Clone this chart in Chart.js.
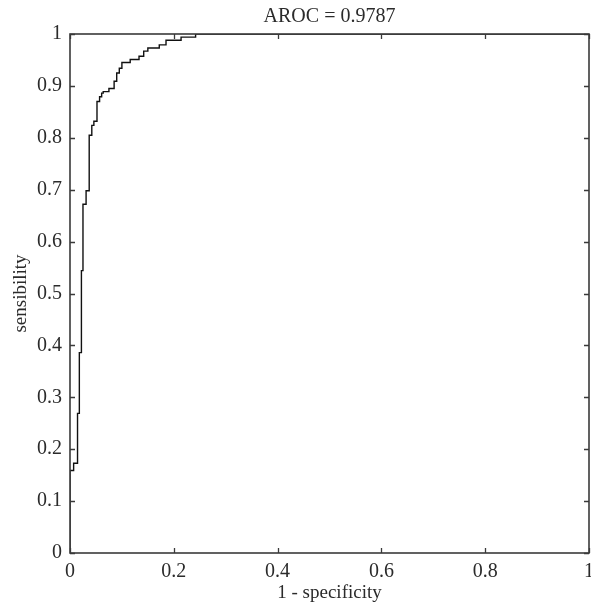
<!DOCTYPE html>
<html>
<head>
<meta charset="utf-8">
<script src="https://cdn.jsdelivr.net/npm/chart.js@4/dist/chart.umd.min.js"></script>
<style>
  html, body { margin: 0; padding: 0; background: #fff; }
</style>
</head>
<body>
<canvas id="rocChart" width="591" height="605"></canvas>
<script>
// ROC curve: corner points, curve steps up at each fpr value
const fpr = [0, 0, 0.007, 0.0145, 0.018, 0.022, 0.025, 0.031, 0.037, 0.042, 0.046, 0.052,
  0.057, 0.061, 0.064, 0.075, 0.085, 0.090, 0.095, 0.100, 0.116, 0.133, 0.142, 0.150,
  0.172, 0.185, 0.214, 0.242, 1];
const tpr = [0, 0.159, 0.173, 0.269, 0.386, 0.544, 0.672, 0.698, 0.805, 0.824, 0.832, 0.870,
  0.879, 0.886, 0.889, 0.895, 0.909, 0.925, 0.934, 0.945, 0.951, 0.957, 0.967, 0.973,
  0.979, 0.988, 0.994, 1.0, 1.0];

const xTicks = [0, 0.2, 0.4, 0.6, 0.8, 1];
const yTicks = [0, 0.1, 0.2, 0.3, 0.4, 0.5, 0.6, 0.7, 0.8, 0.9, 1];

const chartTitle = 'AROC = 0.9787';
const xTitle = '1 - specificity';
const yTitle = 'sensibility';

const serif = 'Liberation Serif';
const textColor = '#2b2b2b';

// MATLAB style box with inward ticks on all four sides
const boxTicks = {
  id: 'boxTicks',
  afterDraw(chart) {
    const { ctx, chartArea: a, scales } = chart;
    const len = 5;
    ctx.save();
    ctx.strokeStyle = '#3a3a3a';
    ctx.lineWidth = 1.3;
    ctx.beginPath();
    scales.x.ticks.forEach(t => {
      const px = Math.round(scales.x.getPixelForValue(t.value)) + 0.5;
      ctx.moveTo(px, a.bottom); ctx.lineTo(px, a.bottom - len);
      ctx.moveTo(px, a.top); ctx.lineTo(px, a.top + len);
    });
    scales.y.ticks.forEach(t => {
      const py = Math.round(scales.y.getPixelForValue(t.value)) + 0.5;
      ctx.moveTo(a.left, py); ctx.lineTo(a.left + len, py);
      ctx.moveTo(a.right, py); ctx.lineTo(a.right - len, py);
    });
    ctx.stroke();
    ctx.lineWidth = 1.6;
    ctx.strokeRect(a.left, a.top, a.right - a.left, a.bottom - a.top);
    ctx.restore();
  }
};

const ctx = document.getElementById('rocChart').getContext('2d');
const rocChart = new Chart(ctx, {
  type: 'line',
  data: {
    datasets: [{
      data: fpr.map((x, i) => ({ x: x, y: tpr[i] })),
      borderColor: '#111',
      borderWidth: 1.4,
      pointRadius: 0,
      stepped: true,
      fill: false
    }]
  },
  options: {
    responsive: false,
    animation: false,
    layout: { padding: { left: 0, right: 2, top: 0, bottom: 0 } },
    plugins: {
      legend: { display: false },
      tooltip: { enabled: false },
      title: {
        display: true,
        text: chartTitle,
        fullSize: false,
        color: textColor,
        font: { family: serif, size: 20, weight: 'normal' },
        padding: { top: 5, bottom: 5 }
      }
    },
    scales: {
      x: {
        type: 'linear',
        min: 0,
        max: 1,
        afterBuildTicks: s => { s.ticks = xTicks.map(v => ({ value: v })); },
        afterFit: s => { s.height = 52; s.paddingLeft = 0; s.paddingRight = 0; },
        grid: { display: false, drawTicks: false },
        border: { display: false },
        ticks: {
          color: textColor,
          padding: 7,
          maxRotation: 0,
          font: { family: serif, size: 20 },
          callback: v => String(v)
        },
        title: {
          display: true,
          text: xTitle,
          color: textColor,
          font: { family: serif, size: 19 },
          padding: { top: 0, bottom: 1 }
        }
      },
      y: {
        type: 'linear',
        min: 0,
        max: 1,
        afterBuildTicks: s => { s.ticks = yTicks.map(v => ({ value: v })); },
        afterFit: s => { s.width = 70; s.paddingTop = 0; s.paddingBottom = 0; },
        grid: { display: false, drawTicks: false },
        border: { display: false },
        ticks: {
          color: textColor,
          padding: 8,
          font: { family: serif, size: 20 },
          callback: v => String(v)
        },
        title: {
          display: true,
          text: yTitle,
          color: textColor,
          font: { family: serif, size: 19 },
          padding: { top: 10, bottom: 0 }
        }
      }
    }
  },
  plugins: [boxTicks]
});
</script>
</body>
</html>
